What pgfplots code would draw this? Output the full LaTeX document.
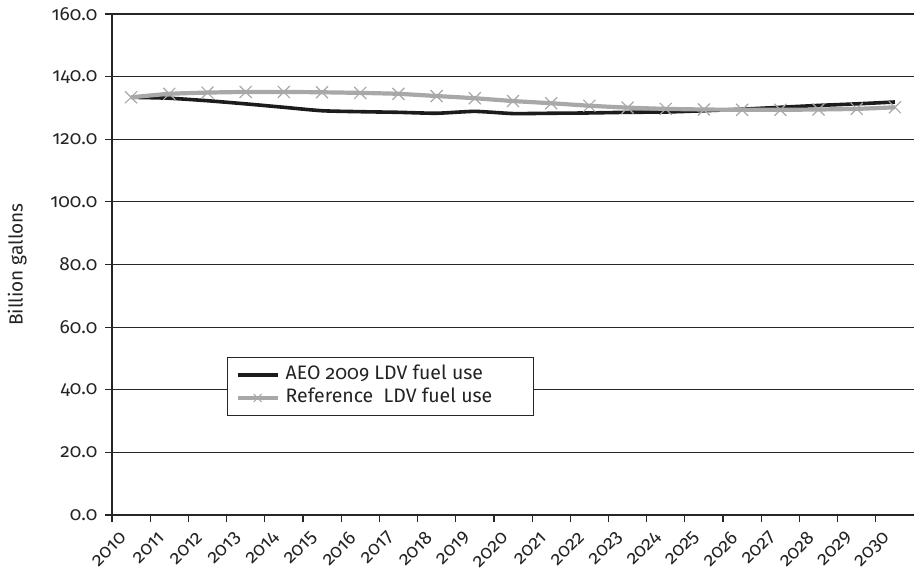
\documentclass[border=0pt]{standalone}
\usepackage{fontspec}
\setmainfont{Fira Sans}[RawFeature=+onum]
\usepackage{pgfplots}
\pgfplotsset{compat=1.18}
\definecolor{lgray}{RGB}{168,168,168}
\definecolor{dline}{RGB}{28,28,28}
\definecolor{txt}{RGB}{35,35,35}
\begin{document}
\begin{tikzpicture}
\begin{axis}[
  scale only axis,
  width=802pt, height=501pt,
  xmin=0, xmax=21, ymin=0, ymax=160,
  xtick={0,...,20},
  xticklabels={2010,2011,2012,2013,2014,2015,2016,2017,2018,2019,2020,2021,2022,2023,2024,2025,2026,2027,2028,2029,2030},
  ytick={0,20,...,160},
  axis x line*=bottom, axis y line*=left,
  axis line style={line width=1.2pt, black!85, -},
  tick align=outside,
  major tick length=7pt,
  tick style={line width=1.2pt, black!85},
  ymajorgrids,
  major grid style={line width=1.2pt, black!85},
  /pgf/number format/assume math mode=true,
  y tick label style={/pgf/number format/fixed, /pgf/number format/fixed zerofill, /pgf/number format/precision=1},
  tick label style={font=\fontsize{19}{22}\selectfont, text=txt},
  yticklabel style={xshift=-4pt},
  xticklabel style={rotate=45, anchor=east, inner sep=0pt, xshift=-1pt, yshift=-17pt},
  ylabel={Billion gallons},
  ylabel style={font=\fontsize{19}{22}\selectfont, text=txt, at={(axis description cs:-0.106,0.5)}, anchor=south, inner sep=0pt},
  legend style={at={(0.1434,0.3154)}, anchor=north west, draw=black!85, line width=1pt,
    font=\fontsize{19.5}{22}\selectfont, text=txt, inner xsep=8pt, inner ysep=6pt,
    nodes={inner sep=2pt, text height=14pt, text depth=5pt},
    column sep=4pt,
    legend cell align=left, fill=white},
]
\addplot[dline, line width=3.6pt, smooth, tension=0.35, mark=none,
  legend image code/.code={\draw[dline, line width=3.6pt] (0pt,0pt) -- (40pt,0pt);}] coordinates {
(0.5,133.4) (1.5,133.1) (2.5,132.3) (3.5,131.3) (4.5,130.2) (5.5,129.1) (6.5,128.8)
(7.5,128.6) (8.5,128.3) (9.5,128.9) (10.5,128.2) (11.5,128.3) (12.5,128.4) (13.5,128.6)
(14.5,128.7) (15.5,129.1) (16.5,129.6) (17.5,130.2) (18.5,130.8) (19.5,131.3) (20.5,131.9)};
\addlegendentry{AEO 2009 LDV fuel use\hspace*{40pt}}
\addplot[lgray, line width=4.2pt, smooth, tension=0.35, mark=x, mark size=8.5pt,
  mark options={line width=1.2pt, solid, lgray},
  legend image code/.code={\draw[lgray, line width=4.2pt] (0pt,0pt) -- (40pt,0pt);
    \draw[mark=x, mark size=5.5pt, mark options={lgray, line width=1pt}] plot coordinates {(20pt,0pt)};}] coordinates {
(0.5,133.4) (1.5,134.5) (2.5,134.9) (3.5,135.1) (4.5,135.1) (5.5,135.0) (6.5,134.8)
(7.5,134.5) (8.5,133.8) (9.5,133.1) (10.5,132.2) (11.5,131.5) (12.5,130.7) (13.5,130.1)
(14.5,129.7) (15.5,129.5) (16.5,129.4) (17.5,129.4) (18.5,129.5) (19.5,129.7) (20.5,130.2)};
\addlegendentry{Reference\ \ LDV fuel use\hspace*{30pt}}
\end{axis}
\pgfresetboundingbox
\path[use as bounding box] ([xshift=-112pt,yshift=-57pt]current axis.south west) rectangle ([yshift=14pt]current axis.north east);
\end{tikzpicture}
\end{document}
